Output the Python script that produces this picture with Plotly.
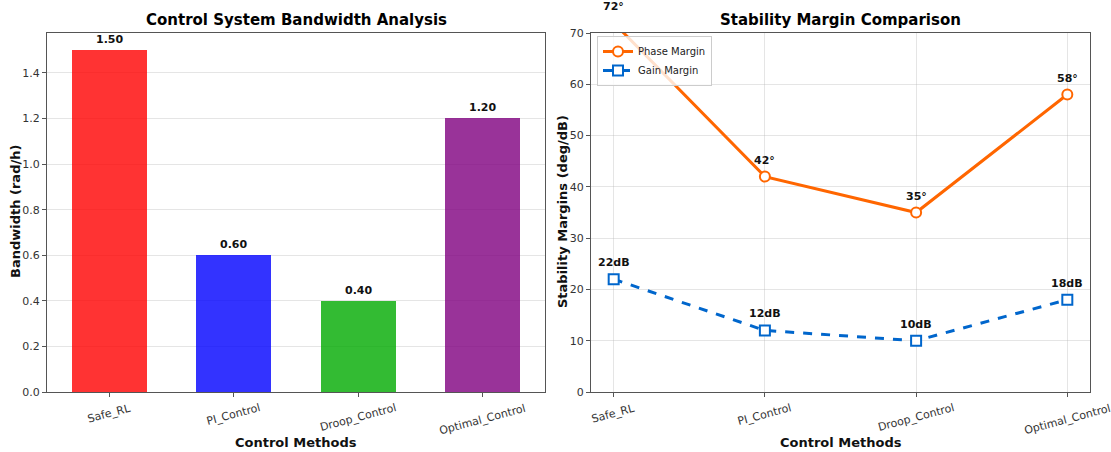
import plotly.graph_objects as go

methods = ["Safe_RL", "PI_Control", "Droop_Control", "Optimal_Control"]
bandwidth = [1.50, 0.60, 0.40, 1.20]
bar_colors = ["rgba(255,0,0,0.8)", "rgba(0,0,255,0.8)", "rgba(0,170,0,0.8)", "rgba(128,0,128,0.8)"]
phase_margin = [72, 42, 35, 58]
gain_margin = [22, 12, 10, 18]

W, H = 1111, 452
FONT = "DejaVu Sans"
ORANGE = "#ff6600"
BLUE = "#0066cc"
SPINE = "#555555"
GRID = "rgba(180,180,180,0.35)"

def px_x(a, b):
    return [a / W, b / W]

def py(y):
    return (H - y) / H

ydom = [py(392), py(33)]
x2dom = px_x(591, 1090)
X2RANGE = [-0.15, 3.15]
Y2RANGE = [0, 70]

def x2_paper(v):
    return x2dom[0] + (v - X2RANGE[0]) / (X2RANGE[1] - X2RANGE[0]) * (x2dom[1] - x2dom[0])

def y2_paper(v):
    return ydom[0] + (v - Y2RANGE[0]) / (Y2RANGE[1] - Y2RANGE[0]) * (ydom[1] - ydom[0])

fig = go.Figure()

fig.add_trace(go.Bar(
    x=list(range(len(methods))), y=bandwidth, width=0.6,
    marker=dict(color=bar_colors, line=dict(width=0)),
    xaxis="x", yaxis="y", showlegend=False, hoverinfo="skip",
))

fig.add_trace(go.Scatter(
    x=list(range(len(methods))), y=phase_margin, mode="lines+markers",
    name="Phase Margin", line=dict(color=ORANGE, width=3),
    marker=dict(symbol="circle", size=10, color="white", line=dict(color=ORANGE, width=2)),
    xaxis="x2", yaxis="y2", cliponaxis=True,
))
fig.add_trace(go.Scatter(
    x=list(range(len(methods))), y=gain_margin, mode="lines+markers",
    name="Gain Margin", line=dict(color=BLUE, width=3, dash="dash"),
    marker=dict(symbol="square", size=10, color="white", line=dict(color=BLUE, width=2)),
    xaxis="x2", yaxis="y2", cliponaxis=True,
))

LBL = dict(family=FONT, size=11, color="#111")
annotations = []
for i, v in enumerate(bandwidth):
    annotations.append(dict(x=i, y=v, xref="x", yref="y", text=f"<b>{v:.2f}</b>",
                            showarrow=False, xanchor="center", yanchor="bottom", yshift=2, font=LBL))
for i, v in enumerate(phase_margin):
    annotations.append(dict(x=x2_paper(i), y=y2_paper(v), xref="paper", yref="paper",
                            text=f"<b>{v}°</b>", showarrow=False, xanchor="center",
                            yanchor="bottom", yshift=8, font=LBL))
for i, v in enumerate(gain_margin):
    annotations.append(dict(x=x2_paper(i), y=y2_paper(v), xref="paper", yref="paper",
                            text=f"<b>{v}dB</b>", showarrow=False, xanchor="center",
                            yanchor="bottom", yshift=8, font=LBL))

# rotated, centered category tick labels
TICKF = dict(family=FONT, size=11, color="#333")
for xr, yr in (("x", "y"), ("x2", "y2")):
    for i, m in enumerate(methods):
        annotations.append(dict(x=i, y=0, xref=xr, yref=yr, text=m, textangle=-15,
                                showarrow=False, xanchor="center", yanchor="top",
                                yshift=-7, font=TICKF))

TITLEF = dict(family=FONT, size=15, color="#000")
AXF = dict(family=FONT, size=13, color="#111")
annotations += [
    dict(x=(47 + 545) / 2 / W, y=py(20), xref="paper", yref="paper",
         text="<b>Control System Bandwidth Analysis</b>", showarrow=False,
         font=TITLEF, xanchor="center", yanchor="middle"),
    dict(x=(591 + 1090) / 2 / W, y=py(20), xref="paper", yref="paper",
         text="<b>Stability Margin Comparison</b>", showarrow=False,
         font=TITLEF, xanchor="center", yanchor="middle"),
    dict(x=(47 + 545) / 2 / W, y=py(442), xref="paper", yref="paper",
         text="<b>Control Methods</b>", showarrow=False, font=AXF,
         xanchor="center", yanchor="middle"),
    dict(x=(591 + 1090) / 2 / W, y=py(442), xref="paper", yref="paper",
         text="<b>Control Methods</b>", showarrow=False, font=AXF,
         xanchor="center", yanchor="middle"),
    dict(x=16 / W, y=py(212), xref="paper", yref="paper", textangle=-90,
         text="<b>Bandwidth (rad/h)</b>", showarrow=False, font=AXF,
         xanchor="center", yanchor="middle"),
    dict(x=563 / W, y=py(212), xref="paper", yref="paper", textangle=-90,
         text="<b>Stability Margins (deg/dB)</b>", showarrow=False, font=AXF,
         xanchor="center", yanchor="middle"),
]

axis_common = dict(showline=True, linecolor=SPINE, linewidth=1.2, mirror=True,
                   ticks="outside", ticklen=4, tickcolor=SPINE, automargin=False,
                   tickfont=dict(family=FONT, size=11, color="#333"), zeroline=False)

fig.update_layout(
    width=W, height=H,
    margin=dict(l=0, r=0, t=0, b=0),
    paper_bgcolor="white", plot_bgcolor="white",
    font=dict(family=FONT),
    annotations=annotations,
    xaxis=dict(domain=px_x(47, 545), range=[-0.5, 3.5], anchor="y",
               tickmode="array", tickvals=list(range(4)), showticklabels=False,
               showgrid=False, **axis_common),
    yaxis=dict(domain=ydom, range=[0, 1.575], anchor="x",
               tickmode="array", tickvals=[0, 0.2, 0.4, 0.6, 0.8, 1.0, 1.2, 1.4],
               ticktext=["0.0", "0.2", "0.4", "0.6", "0.8", "1.0", "1.2", "1.4"],
               showgrid=True, gridcolor=GRID, gridwidth=1, **axis_common),
    xaxis2=dict(domain=x2dom, range=X2RANGE, anchor="y2",
                tickmode="array", tickvals=list(range(4)), showticklabels=False,
                showgrid=True, gridcolor=GRID, gridwidth=1, **axis_common),
    yaxis2=dict(domain=ydom, range=Y2RANGE, anchor="x2",
                tickmode="array", tickvals=[0, 10, 20, 30, 40, 50, 60, 70],
                showgrid=True, gridcolor=GRID, gridwidth=1, **axis_common),
    legend=dict(x=597 / W, y=py(36), xanchor="left", yanchor="top",
                bgcolor="rgba(255,255,255,0.8)", bordercolor="#cccccc", borderwidth=1,
                font=dict(family=FONT, size=10, color="#222"),
                itemwidth=30, tracegroupgap=0),
    bargap=0,
)

fig.write_html("out.html", config={"displayModeBar": False},
               post_script="document.body.style.margin='0';document.body.style.overflow='hidden';")
